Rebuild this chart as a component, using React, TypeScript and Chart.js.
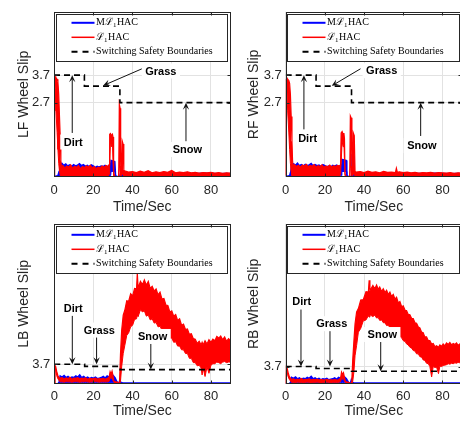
import React, { useEffect, useRef } from "react";
import { Chart, registerables } from "chart.js";

Chart.register(...registerables);

// ---------------- data ----------------
const X_TICKS = [0, 20, 40, 60, 80];
const TOP_Y_TICKS = [2.7, 3.7];
const BOTTOM_Y_TICKS = [3.7];

const BOUND_T = [0, 15.5, 15.5, 33.6, 33.6, 90];
const BOUND_Y = [3.7, 3.7, 3.3, 3.3, 2.7, 2.7];

const LEGEND_TEXT = ["Mℒ1HAC", "ℒ1HAC", "Switching Safety Boundaries"];

// LF wheel
const LF_RED_T = [
  0, 0.3, 0.6, 1.0, 1.6, 2.0, 2.4, 2.8, 3.2, 3.5,
  3.8, 4.5, 5.5, 6.5, 7.5, 8.5, 9.5, 10.5, 11.5, 12.5,
  13.5, 14.5, 15.5, 16.5, 17.5, 18.5, 19.5, 20.5, 21.5, 22.5,
  23.5, 24.5, 25.5, 26.5, 27.5, 28.1, 28.4, 28.8, 29.3, 29.8,
  30.1, 30.4, 31.0, 32.0, 33.0, 33.3, 33.7, 34.0, 34.4, 34.8,
  35.2, 35.6, 36, 38, 40, 42, 44, 46, 48, 50,
  52, 54, 56, 58, 60, 62, 64, 66, 68, 70,
  72, 74, 76, 78, 80, 82, 84, 86, 88, 90,
];
const LF_RED_HI = [
  0.05, 3.6, 3.65, 3.6, 3.55, 3.45, 3.0, 2.2, 1.4, 0.6,
  0.35, 0.42, 0.33, 0.4, 0.36, 0.44, 0.32, 0.39, 0.35, 0.42,
  0.3, 0.38, 0.34, 0.41, 0.36, 0.43, 0.33, 0.38, 0.3, 0.36,
  0.33, 0.4, 0.35, 0.42, 0.38, 0.45, 1.55, 1.58, 1.5, 1.55,
  1.45, 0.15, 0.02, 0.0, 0.02, 2.64, 2.5, 0.4, 0.3, 1.3,
  1.2, 0.25, 0.22, 0.18, 0.2, 0.16, 0.21, 0.17, 0.23, 0.15,
  0.19, 0.16, 0.2, 0.17, 0.24, 0.15, 0.18, 0.16, 0.19, 0.15,
  0.17, 0.14, 0.16, 0.15, 0.17, 0.14, 0.16, 0.13, 0.15, 0.14,
];
const LF_RED_LO = [
  0.05, 3.6, 3.2, 2.4, 1.6, 1.0, 0.5, 0.2, 0.05, 0.03,
  0.03, 0.03, 0.04, 0.03, 0.03, 0.04, 0.03, 0.03, 0.04, 0.03,
  0.03, 0.04, 0.03, 0.03, 0.04, 0.03, 0.03, 0.04, 0.03, 0.03,
  0.04, 0.03, 0.03, 0.04, 0.03, 0.1, 0.5, 1.3, 1.1, 1.3,
  0.6, 0.05, 0.0, 0.0, 0.0, 0.3, 0.4, 0.05, 0.05, 0.1,
  0.1, 0.03, 0.02, 0.02, 0.02, 0.02, 0.02, 0.02, 0.02, 0.02,
  0.02, 0.02, 0.02, 0.02, 0.02, 0.02, 0.02, 0.02, 0.02, 0.02,
  0.02, 0.02, 0.02, 0.02, 0.02, 0.02, 0.02, 0.02, 0.02, 0.02,
];
const LF_BLUE_T = [
  0, 2.0, 2.6, 3.0, 4, 5, 6, 7, 8, 9,
  10, 11, 12, 13, 14, 15, 16, 17, 18, 19,
  20, 21, 22, 23, 24, 25, 26, 27, 28, 28.9,
  29.1, 30.0, 31.0, 31.4, 32, 33.5, 34, 36, 40, 44,
  48, 52, 56, 60, 64, 68, 72, 76, 80, 84,
  88, 90,
];
const LF_BLUE_HI = [
  0.02, 0.05, 0.2, 0.45, 0.5, 0.42, 0.47, 0.4, 0.44, 0.38,
  0.45, 0.4, 0.43, 0.48, 0.41, 0.45, 0.39, 0.42, 0.37, 0.44,
  0.4, 0.35, 0.39, 0.36, 0.4, 0.38, 0.42, 0.37, 0.4, 0.45,
  0.6, 0.58, 0.55, 0.05, 0.02, 0.02, 0.15, 0.13, 0.12, 0.14,
  0.11, 0.13, 0.12, 0.14, 0.12, 0.13, 0.12, 0.14, 0.13, 0.12,
  0.13, 0.12,
];
const LF_BLUE_LO = [
  0, 0, 0.02, 0.05, 0.05, 0.05, 0.05, 0.05, 0.05, 0.05,
  0.05, 0.05, 0.05, 0.05, 0.05, 0.05, 0.05, 0.05, 0.05, 0.05,
  0.05, 0.05, 0.05, 0.05, 0.05, 0.05, 0.05, 0.05, 0.05, 0.05,
  0.2, 0.2, 0.2, 0.0, 0.0, 0.0, 0.02, 0.04, 0.04, 0.04,
  0.04, 0.04, 0.04, 0.04, 0.04, 0.04, 0.04, 0.04, 0.04, 0.04,
  0.04, 0.04,
];

// RF wheel
const RF_RED_T = [
  0, 0.3, 0.6, 1.0, 1.6, 2.0, 2.4, 2.8, 3.2, 3.5,
  3.8, 4.5, 5.5, 6.5, 7.5, 8.5, 9.5, 10.5, 11.5, 12.5,
  13.5, 14.5, 15.5, 16.5, 17.5, 18.5, 19.5, 20.5, 21.5, 22.5,
  23.5, 24.5, 25.5, 26.5, 27.5, 28.0, 28.3, 28.8, 29.3, 29.7,
  30.0, 30.3, 31.0, 32.0, 32.7, 33.0, 33.4, 33.8, 34.2, 34.5,
  35.0, 35.4, 36, 38, 40, 42, 44, 46, 48, 50,
  52, 54, 56, 56.5, 57, 58, 60, 62, 64, 66,
  68, 70, 72, 74, 76, 78, 80, 82, 84, 86,
  88, 90,
];
const RF_RED_HI = [
  0.05, 3.55, 3.6, 3.55, 3.5, 3.4, 3.0, 2.2, 1.3, 0.6,
  0.4, 0.45, 0.38, 0.43, 0.36, 0.44, 0.4, 0.46, 0.37, 0.42,
  0.39, 0.45, 0.36, 0.41, 0.38, 0.44, 0.35, 0.4, 0.37, 0.43,
  0.36, 0.41, 0.38, 0.42, 0.4, 0.45, 1.6, 1.65, 1.55, 1.6,
  1.4, 0.1, 0.02, 0.0, 0.02, 2.22, 2.15, 0.35, 0.3, 1.6,
  1.5, 0.2, 0.18, 0.2, 0.16, 0.21, 0.17, 0.19, 0.15, 0.2,
  0.17, 0.18, 0.16, 0.32, 0.17, 0.19, 0.16, 0.18, 0.15, 0.17,
  0.14, 0.16, 0.15, 0.17, 0.14, 0.16, 0.15, 0.14, 0.16, 0.13,
  0.15, 0.14,
];
const RF_RED_LO = [
  0.05, 3.55, 3.2, 2.4, 1.6, 1.0, 0.5, 0.2, 0.05, 0.03,
  0.03, 0.03, 0.04, 0.03, 0.03, 0.04, 0.03, 0.03, 0.04, 0.03,
  0.03, 0.04, 0.03, 0.03, 0.04, 0.03, 0.03, 0.04, 0.03, 0.03,
  0.04, 0.03, 0.03, 0.04, 0.03, 0.1, 0.5, 1.3, 1.1, 1.3,
  0.6, 0.05, 0.0, 0.0, 0.0, 0.3, 0.4, 0.05, 0.05, 0.1,
  0.1, 0.03, 0.02, 0.02, 0.02, 0.02, 0.02, 0.02, 0.02, 0.02,
  0.02, 0.02, 0.02, 0.02, 0.02, 0.02, 0.02, 0.02, 0.02, 0.02,
  0.02, 0.02, 0.02, 0.02, 0.02, 0.02, 0.02, 0.02, 0.02, 0.02,
  0.02, 0.02,
];
const RF_BLUE_T = [
  0, 2.0, 2.6, 3.0, 4, 5, 6, 7, 8, 9,
  10, 11, 12, 13, 14, 15, 16, 17, 18, 19,
  20, 21, 22, 23, 24, 25, 26, 27, 28, 28.5,
  28.7, 30.0, 31.0, 31.2, 32, 33.7, 33.9, 34.6, 34.8, 36,
  40, 44, 48, 52, 56, 60, 64, 68, 72, 76,
  80, 84, 88, 90,
];
const RF_BLUE_HI = [
  0.02, 0.05, 0.2, 0.45, 0.48, 0.43, 0.5, 0.41, 0.45, 0.4,
  0.46, 0.42, 0.44, 0.49, 0.4, 0.45, 0.41, 0.43, 0.38, 0.45,
  0.41, 0.37, 0.4, 0.36, 0.42, 0.39, 0.43, 0.38, 0.41, 0.45,
  0.64, 0.62, 0.6, 0.05, 0.02, 0.02, 0.79, 0.75, 0.15, 0.13,
  0.12, 0.14, 0.11, 0.13, 0.12, 0.14, 0.12, 0.13, 0.12, 0.14,
  0.13, 0.12, 0.13, 0.12,
];
const RF_BLUE_LO = [
  0, 0, 0.02, 0.05, 0.05, 0.05, 0.05, 0.05, 0.05, 0.05,
  0.05, 0.05, 0.05, 0.05, 0.05, 0.05, 0.05, 0.05, 0.05, 0.05,
  0.05, 0.05, 0.05, 0.05, 0.05, 0.05, 0.05, 0.05, 0.05, 0.05,
  0.2, 0.2, 0.2, 0.0, 0.0, 0.0, 0.1, 0.1, 0.04, 0.04,
  0.04, 0.04, 0.04, 0.04, 0.04, 0.04, 0.04, 0.04, 0.04, 0.04,
  0.04, 0.04, 0.04, 0.04,
];

// LB wheel
const LB_RED_T = [
  0, 0.3, 0.7, 1.2, 1.8, 2.5, 3, 4, 5, 6,
  7, 8, 9, 10, 11, 12, 13, 14, 15, 16,
  17, 18, 19, 20, 21, 22, 23, 24, 25, 26,
  27, 28, 28.5, 29, 29.5, 30, 30.5, 31.5, 32.4, 32.8,
  33.3, 33.8, 34.4, 35.2, 36, 37, 38, 39, 40, 41,
  42, 42.4, 42.8, 44, 45, 46, 47, 48, 49, 50,
  51, 52, 53, 54, 55, 56, 57, 58, 59, 60,
  61, 62, 63, 64, 65, 66, 67, 68, 69, 70,
  71, 72, 73, 74, 75, 75.5, 76, 77, 78, 79,
  80, 81, 82, 83, 84, 85, 86, 87, 88, 89,
  90,
];
const LB_RED_HI = [
  0.1, 3.5, 3.3, 2.4, 1.6, 1.2, 1.1, 1.2, 0.95, 1.15,
  1.0, 1.25, 0.9, 1.1, 1.05, 1.2, 0.95, 1.1, 1.0, 1.15,
  0.9, 1.05, 1.0, 0.95, 1.1, 0.9, 1.0, 0.95, 1.05, 0.9,
  1.0, 1.3, 2.3, 1.8, 2.4, 1.5, 0.5, 0.4, 0.35, 0.1,
  0.1, 5.5, 10.0, 12.9, 13.8, 15.6, 15.5, 16.9, 16.5, 17.9,
  17.8, 20.8, 18.0, 19.2, 18.6, 19.5, 18.5, 19.2, 17.9, 18.3,
  17.4, 17.8, 16.7, 17.2, 15.9, 16.0, 14.8, 14.7, 13.5, 13.7,
  12.7, 13.0, 11.9, 12.2, 11.0, 11.2, 10.2, 10.3, 9.3, 9.4,
  8.5, 8.4, 7.6, 8.0, 7.3, 7.8, 7.3, 8.1, 7.5, 8.3,
  7.8, 8.4, 8.1, 8.9, 8.6, 9.0, 8.3, 8.8, 8.0, 8.5,
  8.1,
];
const LB_RED_LO = [
  0.1, 3.4, 2.5, 1.6, 1.0, 0.6, 0.4, 0.4, 0.35, 0.45,
  0.4, 0.4, 0.35, 0.4, 0.45, 0.4, 0.35, 0.4, 0.4, 0.45,
  0.4, 0.35, 0.4, 0.4, 0.45, 0.4, 0.35, 0.4, 0.4, 0.4,
  0.4, 0.5, 1.2, 1.0, 1.2, 0.6, 0.3, 0.2, 0.1, 0.0,
  0.0, 0.5, 3.2, 5.7, 7.2, 9.1, 9.6, 10.7, 11.0, 12.1,
  12.2, 12.9, 12.6, 13.9, 13.5, 13.7, 12.7, 12.9, 12.0, 12.2,
  11.4, 11.5, 10.7, 10.8, 10.1, 10.1, 9.3, 9.4, 8.6, 8.6,
  7.8, 7.9, 7.1, 7.1, 6.4, 6.4, 5.7, 5.7, 4.8, 4.8,
  4.0, 4.0, 3.4, 3.5, 3.0, 1.7, 3.0, 1.4, 3.2, 2.0,
  3.5, 3.8, 3.8, 4.1, 4.0, 3.8, 4.1, 4.2, 4.0, 4.1,
  4.1,
];
const LB_BLUE_T = [
  0, 2, 2.5, 3, 4, 5, 6, 7, 8, 9,
  10, 11, 12, 13, 14, 15, 16, 17, 18, 19,
  20, 21, 22, 23, 24, 25, 26, 27, 28, 29,
  30, 31, 32, 33, 33.5, 34, 35, 40, 45, 50,
  55, 60, 65, 70, 75, 80, 85, 90,
];
const LB_BLUE_HI = [
  0.05, 0.1, 0.4, 1.5, 1.3, 1.6, 1.2, 1.4, 1.1, 1.3,
  1.2, 1.5, 1.3, 1.7, 1.2, 1.4, 1.1, 1.3, 1.0, 1.2,
  1.1, 1.3, 1.0, 1.1, 1.2, 1.4, 1.1, 1.5, 1.3, 1.8,
  1.6, 1.2, 0.4, 0.1, 0.8, 0.3, 0.2, 0.2, 0.2, 0.2,
  0.2, 0.2, 0.2, 0.2, 0.2, 0.2, 0.2, 0.2,
];
const LB_BLUE_LO = [
  0, 0, 0.1, 0.3, 0.3, 0.3, 0.3, 0.3, 0.3, 0.3,
  0.3, 0.3, 0.3, 0.3, 0.3, 0.3, 0.3, 0.3, 0.3, 0.3,
  0.3, 0.3, 0.3, 0.3, 0.3, 0.3, 0.3, 0.3, 0.3, 0.3,
  0.3, 0.3, 0.1, 0.0, 0.1, 0.1, 0.1, 0.1, 0.1, 0.1,
  0.1, 0.1, 0.1, 0.1, 0.1, 0.1, 0.1, 0.1,
];

// RB wheel
const RB_RED_T = [
  0, 0.3, 0.7, 1.2, 1.8, 2.5, 3, 4, 5, 6,
  7, 8, 9, 10, 11, 12, 13, 14, 15, 16,
  17, 18, 19, 20, 21, 22, 23, 24, 25, 26,
  27, 28, 28.5, 29, 29.5, 30, 30.5, 31.5, 32.4, 33.0,
  33.7, 34.2, 34.8, 35.4, 36.2, 37.1, 38.3, 39.6, 41, 42.2,
  42.6, 43, 44.5, 45.5, 46.4, 47.2, 48, 49, 49.8, 50.7,
  51.5, 52.4, 53.2, 54, 54.9, 55.8, 56.6, 57.5, 58.3, 59.2,
  60, 61, 61.7, 62.5, 63.4, 64.3, 65.1, 66, 66.8, 67.7,
  68.5, 69.4, 70.2, 71, 71.9, 72.8, 73.6, 74.5, 75.3, 76.2,
  77, 78, 78.7, 79.5, 80.4, 81.2, 82.1, 83, 83.8, 84.7,
  85.5, 86.4, 87.2, 88, 88.9, 90,
];
const RB_RED_HI = [
  0.1, 3.7, 3.4, 2.5, 1.6, 1.2, 1.0, 1.1, 0.85, 1.05,
  0.9, 1.15, 0.85, 1.0, 0.95, 1.1, 0.85, 1.0, 0.9, 1.05,
  0.85, 0.95, 0.9, 0.85, 1.0, 0.85, 0.9, 0.85, 0.95, 0.85,
  0.9, 1.2, 2.5, 2.0, 2.4, 1.4, 0.5, 0.4, 0.3, 0.1,
  0.3, 5.0, 9.0, 12.8, 15.3, 16.0, 17.8, 17.9, 19.6, 19.5,
  22.0, 19.8, 20.9, 20.2, 21.0, 20.1, 20.6, 19.6, 20.2, 19.4,
  19.9, 19.0, 19.5, 18.6, 19.0, 18.0, 18.4, 17.2, 17.5, 16.4,
  16.6, 15.6, 15.6, 14.8, 14.7, 13.9, 13.9, 13.0, 12.9, 12.1,
  11.9, 11.0, 10.9, 10.0, 10.0, 9.2, 9.2, 8.5, 8.6, 7.9,
  8.1, 7.8, 8.3, 8.0, 8.5, 8.1, 8.7, 8.4, 8.8, 8.3,
  8.6, 8.4, 8.7, 8.2, 8.5, 8.4,
];
const RB_RED_LO = [
  0.1, 3.6, 2.6, 1.6, 1.0, 0.6, 0.35, 0.35, 0.3, 0.4,
  0.35, 0.35, 0.3, 0.35, 0.4, 0.35, 0.3, 0.35, 0.35, 0.4,
  0.35, 0.3, 0.35, 0.35, 0.4, 0.35, 0.3, 0.35, 0.35, 0.35,
  0.35, 0.5, 1.2, 1.0, 1.2, 0.6, 0.3, 0.2, 0.1, 0.0,
  0.0, 0.5, 2.5, 6.0, 8.2, 11.0, 11.8, 13.4, 13.6, 14.5,
  14.2, 14.7, 14.3, 14.6, 14.0, 14.1, 13.5, 13.6, 13.0, 13.0,
  12.4, 12.5, 11.9, 11.9, 11.4, 11.4, 10.9, 10.6, 10.1, 9.8,
  9.2, 9.0, 8.5, 8.3, 7.8, 7.6, 7.1, 7.0, 6.4, 6.4,
  5.8, 5.7, 5.1, 5.0, 4.4, 4.3, 3.7, 1.5, 3.7, 3.5,
  3.6, 2.2, 3.8, 3.7, 3.9, 4.0, 4.1, 4.3, 4.2, 4.4,
  4.3, 4.5, 4.4, 4.6, 4.5, 4.6,
];
const RB_BLUE_T = LB_BLUE_T;
const RB_BLUE_HI = [
  0.05, 0.1, 0.4, 1.4, 1.2, 1.5, 1.1, 1.3, 1.0, 1.2,
  1.1, 1.4, 1.2, 1.6, 1.1, 1.3, 1.0, 1.2, 0.9, 1.1,
  1.0, 1.2, 0.9, 1.0, 1.1, 1.3, 1.0, 1.4, 1.2, 1.7,
  1.5, 1.1, 0.4, 0.1, 0.9, 0.3, 0.2, 0.2, 0.2, 0.2,
  0.2, 0.2, 0.2, 0.2, 0.2, 0.2, 0.2, 0.2,
];
const RB_BLUE_LO = LB_BLUE_LO;

// annotations (data units)
const LF_NOTES = [
  { text: "Dirt", x: 9.8, y: 1.27 },
  { text: "Grass", x: 54.5, y: 3.85 },
  { text: "Snow", x: 68, y: 1.0 },
];
const LF_ARROWS = [
  { x1: 9.3, y1: 1.6, x2: 9.3, y2: 3.7 },
  { x1: 45.5, y1: 3.95, x2: 25.1, y2: 3.32 },
  { x1: 67.3, y1: 1.3, x2: 67.3, y2: 2.7 },
];
const RF_NOTES = [
  { text: "Dirt", x: 11.2, y: 1.4 },
  { text: "Grass", x: 49, y: 3.86 },
  { text: "Snow", x: 69.5, y: 1.14 },
];
const RF_ARROWS = [
  { x1: 9.3, y1: 1.73, x2: 9.3, y2: 3.7 },
  { x1: 38.2, y1: 3.93, x2: 23.5, y2: 3.31 },
  { x1: 68.9, y1: 1.49, x2: 68.9, y2: 2.7 },
];
const LB_NOTES = [
  { text: "Dirt", x: 9.7, y: 14.2 },
  { text: "Grass", x: 23, y: 10.1 },
  { text: "Snow", x: 50.2, y: 8.9 },
];
const LB_ARROWS = [
  { x1: 9.2, y1: 12.8, x2: 9.2, y2: 3.7 },
  { x1: 21.6, y1: 9.0, x2: 21.6, y2: 3.7 },
  { x1: 49.3, y1: 7.8, x2: 49.3, y2: 2.7 },
];
const RB_NOTES = [
  { text: "Dirt", x: 8.2, y: 17.6 },
  { text: "Grass", x: 23.5, y: 12.8 },
  { text: "Snow", x: 49.3, y: 10.5 },
];
const RB_ARROWS = [
  { x1: 7.8, y1: 15.8, x2: 7.8, y2: 3.7 },
  { x1: 22.6, y1: 11.3, x2: 22.6, y2: 3.7 },
  { x1: 48.5, y1: 9.1, x2: 48.5, y2: 2.7 },
];

// ---------------- styles / layout ----------------
const BLUE = "#0000ff";
const RED = "#ff0000";
const AX = "#262626";
const GRID = "#e2e2e2";
const SANS = "'Liberation Sans', Arial, Helvetica, sans-serif";
const SERIF = "'Liberation Serif', 'Times New Roman', serif";

type Note = { text: string; x: number; y: number };
type Arrow = { x1: number; y1: number; x2: number; y2: number };
type Panel = {
  title: string;
  yMax: number;
  yTicks: number[];
  redT: number[]; redHi: number[]; redLo: number[];
  blueT: number[]; blueHi: number[]; blueLo: number[];
  notes: Note[]; arrows: Arrow[];
  box: { left: number; top: number; w: number; h: number; padTop: number; padRight: number; yAxisW: number; xAxisH: number; tickPad: number; titlePadBottom: number };
};

const PANELS: Panel[] = [
  {
    title: "LF Wheel Slip", yMax: 6, yTicks: TOP_Y_TICKS,
    redT: LF_RED_T, redHi: LF_RED_HI, redLo: LF_RED_LO,
    blueT: LF_BLUE_T, blueHi: LF_BLUE_HI, blueLo: LF_BLUE_LO,
    notes: LF_NOTES, arrows: LF_ARROWS,
    box: { left: 0, top: 0, w: 236, h: 216, padTop: 7, padRight: 5.5, yAxisW: 54, xAxisH: 39, tickPad: 6, titlePadBottom: 0 },
  },
  {
    title: "RF Wheel Slip", yMax: 6, yTicks: TOP_Y_TICKS,
    redT: RF_RED_T, redHi: RF_RED_HI, redLo: RF_RED_LO,
    blueT: RF_BLUE_T, blueHi: RF_BLUE_HI, blueLo: RF_BLUE_LO,
    notes: RF_NOTES, arrows: RF_ARROWS,
    box: { left: 230, top: 0, w: 240, h: 216, padTop: 7, padRight: 8, yAxisW: 55.7, xAxisH: 39, tickPad: 6, titlePadBottom: 0 },
  },
  {
    title: "LB Wheel Slip", yMax: 30, yTicks: BOTTOM_Y_TICKS,
    redT: LB_RED_T, redHi: LB_RED_HI, redLo: LB_RED_LO,
    blueT: LB_BLUE_T, blueHi: LB_BLUE_HI, blueLo: LB_BLUE_LO,
    notes: LB_NOTES, arrows: LB_ARROWS,
    box: { left: 0, top: 212, w: 236, h: 209, padTop: 8.5, padRight: 5.5, yAxisW: 54.3, xAxisH: 37, tickPad: 4.5, titlePadBottom: 1 },
  },
  {
    title: "RB Wheel Slip", yMax: 34, yTicks: BOTTOM_Y_TICKS,
    redT: RB_RED_T, redHi: RB_RED_HI, redLo: RB_RED_LO,
    blueT: RB_BLUE_T, blueHi: RB_BLUE_HI, blueLo: RB_BLUE_LO,
    notes: RB_NOTES, arrows: RB_ARROWS,
    box: { left: 230, top: 212, w: 240, h: 209, padTop: 8, padRight: 8, yAxisW: 55.7, xAxisH: 37, tickPad: 4.5, titlePadBottom: 1 },
  },
];

const LEGEND_STYLE = [
  { color: BLUE, width: 2, dash: [] as number[] },
  { color: RED, width: 1.5, dash: [] as number[] },
  { color: "#000", width: 2, dash: [6, 5] },
];
const LEGEND_ROWS = [8.3, 22.8, 37.3];

const pts = (t: number[], v: number[]) => t.map((x, i) => ({ x, y: v[i] }));

function drawArrow(ctx: CanvasRenderingContext2D, x1: number, y1: number, x2: number, y2: number) {
  const a = Math.atan2(y2 - y1, x2 - x1);
  const L = 7, W = 3.2;
  const c = Math.cos(a), s = Math.sin(a);
  ctx.strokeStyle = "#111";
  ctx.fillStyle = "#111";
  ctx.lineWidth = 1;
  ctx.setLineDash([]);
  ctx.beginPath();
  ctx.moveTo(x1, y1);
  ctx.lineTo(x2 - L * 0.6 * c, y2 - L * 0.6 * s);
  ctx.stroke();
  ctx.beginPath();
  ctx.moveTo(x2, y2);
  ctx.lineTo(x2 - L * c + W * s, y2 - L * s - W * c);
  ctx.lineTo(x2 - L * 0.6 * c, y2 - L * 0.6 * s);
  ctx.lineTo(x2 - L * c - W * s, y2 - L * s + W * c);
  ctx.closePath();
  ctx.fill();
}

function drawRich(ctx: CanvasRenderingContext2D, text: string, x: number, y: number) {
  const idx = text.indexOf("ℒ1");
  ctx.font = `10px ${SERIF}`;
  if (idx < 0) {
    ctx.fillText(text, x, y);
    return;
  }
  const pre = text.slice(0, idx + 1);
  const post = text.slice(idx + 2);
  ctx.fillText(pre, x, y);
  x += ctx.measureText(pre).width;
  ctx.font = `7px ${SERIF}`;
  ctx.fillText("1", x, y + 2.5);
  x += ctx.measureText("1").width + 0.5;
  ctx.font = `10px ${SERIF}`;
  ctx.fillText(post, x, y);
}

function overlayPlugin(panel: Panel) {
  return {
    id: "overlay",
    afterDatasetsDraw(chart: any) {
      const { ctx, chartArea: ca, scales } = chart;
      const xs = scales.x, ys = scales.y;
      ctx.save();
      // arrows
      panel.arrows.forEach((a) =>
        drawArrow(ctx, xs.getPixelForValue(a.x1), ys.getPixelForValue(a.y1), xs.getPixelForValue(a.x2), ys.getPixelForValue(a.y2))
      );
      // labels
      ctx.font = `bold 11px ${SANS}`;
      ctx.textAlign = "center";
      ctx.textBaseline = "middle";
      panel.notes.forEach((n) => {
        const w = ctx.measureText(n.text).width;
        const px = xs.getPixelForValue(n.x);
        const py = ys.getPixelForValue(n.y);
        ctx.fillStyle = "#ffffff";
        ctx.fillRect(px - w / 2 - 3.5, py - 7.5, w + 7, 15);
        ctx.fillStyle = "#000";
        ctx.fillText(n.text, px, py + 0.5);
      });
      // legend
      const lx = Math.round(ca.left + 1.5) + 0.5;
      const ly = Math.round(ca.top + 2) + 0.5;
      const lw = Math.round(ca.right - 3 - lx);
      const lh = 47;
      ctx.fillStyle = "#fff";
      ctx.fillRect(lx, ly, lw, lh);
      ctx.strokeStyle = AX;
      ctx.lineWidth = 1;
      ctx.strokeRect(lx, ly, lw, lh);
      ctx.textAlign = "left";
      ctx.textBaseline = "middle";
      LEGEND_TEXT.forEach((label, i) => {
        const yy = ly + LEGEND_ROWS[i];
        const st = LEGEND_STYLE[i];
        ctx.strokeStyle = st.color;
        ctx.lineWidth = st.width;
        ctx.setLineDash(st.dash);
        ctx.beginPath();
        ctx.moveTo(lx + 15, yy);
        ctx.lineTo(lx + 38, yy);
        ctx.stroke();
        ctx.setLineDash([]);
        ctx.fillStyle = "#000";
        drawRich(ctx, label, lx + 39.5, yy);
      });
      // axes box + inward ticks
      const L = Math.round(ca.left) + 0.5, R = Math.round(ca.right) - 0.5;
      const T = Math.round(ca.top) + 0.5, B = Math.round(ca.bottom) - 0.5;
      ctx.strokeStyle = AX;
      ctx.lineWidth = 1;
      ctx.strokeRect(L, T, R - L, B - T);
      ctx.beginPath();
      X_TICKS.forEach((v) => {
        const px = Math.round(xs.getPixelForValue(v)) + 0.5;
        ctx.moveTo(px, B); ctx.lineTo(px, B - 3);
        ctx.moveTo(px, T); ctx.lineTo(px, T + 3);
      });
      panel.yTicks.forEach((v) => {
        const py = Math.round(ys.getPixelForValue(v)) + 0.5;
        ctx.moveTo(L, py); ctx.lineTo(L + 3, py);
        ctx.moveTo(R, py); ctx.lineTo(R - 3, py);
      });
      ctx.stroke();
      ctx.restore();
    },
  };
}

function PanelChart({ panel }: { panel: Panel }) {
  const ref = useRef<HTMLCanvasElement | null>(null);
  useEffect(() => {
    if (!ref.current) return;
    const b = panel.box;
    const chart = new Chart(ref.current, {
      type: "line",
      data: {
        datasets: [
          { data: pts(panel.blueT, panel.blueHi), borderColor: BLUE, borderWidth: 1.5, pointRadius: 0, fill: false, order: 3 },
          { data: pts(panel.blueT, panel.blueLo), borderColor: BLUE, borderWidth: 1, pointRadius: 0, fill: "-1", backgroundColor: BLUE, order: 3 },
          { data: pts(panel.redT, panel.redHi), borderColor: RED, borderWidth: 1.2, pointRadius: 0, fill: false, order: 2 },
          { data: pts(panel.redT, panel.redLo), borderColor: RED, borderWidth: 1, pointRadius: 0, fill: "-1", backgroundColor: RED, order: 2 },
          { data: pts(BOUND_T, BOUND_Y), borderColor: "#000", borderWidth: 1.6, borderDash: [6, 4], pointRadius: 0, fill: false, order: 1 },
        ] as any,
      },
      options: {
        responsive: false,
        animation: false,
        events: [],
        layout: { padding: { top: b.padTop, right: b.padRight, left: 0, bottom: 0 } },
        plugins: { legend: { display: false }, tooltip: { enabled: false }, title: { display: false } },
        scales: {
          x: {
            type: "linear",
            min: 0,
            max: 90,
            afterBuildTicks: (s: any) => { s.ticks = X_TICKS.map((v) => ({ value: v })); },
            afterFit: (s: any) => { s.height = b.xAxisH; },
            grid: { color: GRID, lineWidth: 1, drawTicks: false },
            border: { display: false },
            ticks: { color: AX, font: { family: SANS, size: 13 }, padding: b.tickPad, maxRotation: 0, autoSkip: false, callback: (v: any) => String(v) },
            title: { display: true, text: "Time/Sec", color: AX, font: { family: SANS, size: 14 }, padding: { top: 0, bottom: b.titlePadBottom } },
          },
          y: {
            type: "linear",
            min: 0,
            max: panel.yMax,
            afterBuildTicks: (s: any) => { s.ticks = panel.yTicks.map((v) => ({ value: v })); },
            afterFit: (s: any) => { s.width = b.yAxisW; },
            grid: { color: GRID, lineWidth: 1, drawTicks: false },
            border: { display: false },
            ticks: { color: AX, font: { family: SANS, size: 13 }, padding: 4, autoSkip: false, callback: (v: any) => Number(v).toFixed(1) },
            title: { display: true, text: panel.title, color: AX, font: { family: SANS, size: 14 }, padding: { top: 15.6, bottom: 0 } },
          },
        },
      } as any,
      plugins: [overlayPlugin(panel)],
    });
    return () => chart.destroy();
  }, [panel]);
  const b = panel.box;
  return (
    <canvas
      ref={ref}
      width={b.w}
      height={b.h}
      style={{ position: "absolute", left: b.left, top: b.top, width: b.w, height: b.h }}
    />
  );
}

export default function App() {
  return (
    <div
      style={{
        position: "fixed",
        left: 0,
        top: 0,
        width: 460,
        height: 421,
        overflow: "hidden",
        background: "#ffffff",
      }}
    >
      {PANELS.map((p) => (
        <PanelChart key={p.title} panel={p} />
      ))}
    </div>
  );
}
